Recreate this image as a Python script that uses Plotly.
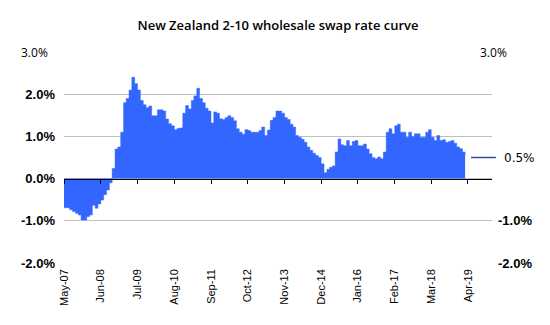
import pandas as pd
import plotly.graph_objects as go

# ---- data ----
start_month = "2007-05-01"
swap_curve = [
    -0.69, -0.69, -0.74, -0.78, -0.82, -0.86, -0.98, -0.98, -0.90, -0.86,
    -0.63, -0.70, -0.60, -0.51, -0.38, -0.27, -0.10, 0.24, 0.70, 0.75,
    1.10, 1.80, 1.90, 2.10, 2.40, 2.25, 2.10, 1.85, 1.75, 1.68,
    1.72, 1.49, 1.49, 1.63, 1.63, 1.60, 1.41, 1.30, 1.25, 1.16,
    1.19, 1.20, 1.55, 1.73, 1.65, 1.85, 1.96, 2.14, 1.90, 1.80,
    1.67, 1.60, 1.32, 1.58, 1.55, 1.42, 1.40, 1.45, 1.49, 1.45,
    1.37, 1.18, 1.10, 1.05, 1.16, 1.14, 1.10, 1.10, 1.10, 1.14,
    1.22, 1.02, 1.15, 1.38, 1.45, 1.60, 1.60, 1.55, 1.45, 1.40,
    1.29, 1.22, 1.02, 0.98, 0.93, 0.86, 0.75, 0.67, 0.60, 0.55,
    0.50, 0.35, 0.14, 0.22, 0.27, 0.30, 0.63, 0.94, 0.80, 0.78,
    0.90, 0.78, 0.88, 0.90, 0.78, 0.78, 0.82, 0.70, 0.59, 0.50,
    0.47, 0.51, 0.47, 0.63, 1.10, 1.18, 1.06, 1.25, 1.29, 1.10,
    1.10, 0.98, 1.10, 1.00, 1.06, 1.06, 0.98, 0.98, 1.10, 1.16,
    0.98, 0.90, 1.02, 0.90, 0.92, 0.86, 0.88, 0.90, 0.84, 0.75,
    0.71, 0.63, 0.55,
]
dates = pd.date_range(start_month, periods=len(swap_curve), freq="MS")
tick_dates = pd.date_range(start_month, "2019-04-01", freq="13MS")
tick_labels = [d.strftime("%b-%y") for d in tick_dates]
left_ticks = [-2, -1, 0, 1, 2, 3]
right_ticks = [-2, -1]
marker_value = 0.5
x_range = ["2007-05-01", "2019-12-16"]
y_range = [-2, 3]

def pct(v):
    return f"{v:.1f}%"

BLUE = "#3366FF"
GRID = "#BFBFBF"
bold_font = dict(family="Liberation Sans", size=13, color="black", weight="bold")

fig = go.Figure()
fig.add_trace(go.Scatter(
    x=dates, y=swap_curve, mode="lines", line=dict(shape="hv", color=BLUE, width=0.5),
    fill="tozeroy", fillcolor=BLUE, showlegend=False, hoverinfo="skip",
))
fig.add_trace(go.Scatter(x=[], y=[], xaxis="x2", yaxis="y2", showlegend=False))

zero_pos = (0 - y_range[0]) / (y_range[1] - y_range[0])

fig.update_layout(
    width=550, height=325,
    margin=dict(l=64, r=58, t=52, b=62),
    paper_bgcolor="white", plot_bgcolor="white",
    title=dict(text="New Zealand 2-10 wholesale swap rate curve",
               x=0.5, xref="paper", xanchor="center", y=1 - 25 / 325, yanchor="middle",
               font=dict(family="Open Sans", size=13, color="black", weight=600)),
    xaxis=dict(type="date", range=x_range, tickvals=tick_dates, ticktext=tick_labels,
               tickangle=-90, ticks="", showline=False, showgrid=False, zeroline=False,
               tickfont=dict(family="Liberation Sans", size=11, color="black"),
               ticklabelstandoff=3),
    xaxis2=dict(type="date", range=x_range, overlaying="x", anchor="free", position=zero_pos,
                tickvals=tick_dates, showticklabels=False, ticks="outside", ticklen=4,
                tickcolor="black", showline=True, linecolor="black", linewidth=1,
                showgrid=False, zeroline=False),
    yaxis=dict(range=y_range, tickvals=left_ticks,
               ticktext=[pct(v) if v != 3 else "" for v in left_ticks],
               showgrid=True, gridcolor=GRID, gridwidth=1, zeroline=False, ticks="",
               tickfont=bold_font, ticklabelstandoff=8),
    yaxis2=dict(range=y_range, overlaying="y", side="right", anchor="x",
                tickvals=right_ticks, ticktext=[pct(v) for v in right_ticks],
                showgrid=False, zeroline=False, ticks="", tickfont=bold_font,
                ticklabelstandoff=5),
)

# white patch hiding the end of the top gridline under the right 3.0% label
fig.add_shape(type="rect", xref="paper", yref="y", x0=0.9416, x1=1.0, y0=2.95, y1=3.05,
              fillcolor="white", line=dict(width=0), layer="above")
# marker line for latest level
fig.add_shape(type="line", xref="paper", yref="y", x0=0.951, x1=1.009,
              y0=marker_value, y1=marker_value, line=dict(color="#2E4A9E", width=1.5))
fig.add_annotation(xref="paper", yref="y", x=1.0234, y=marker_value, xanchor="left",
                   text=pct(marker_value), showarrow=False,
                   font=dict(family="DejaVu Sans", size=12, color="black"))
top_font = dict(family="Open Sans", size=12, color="black")
fig.add_annotation(xref="paper", yref="y", x=-0.0327, y=y_range[1], xanchor="right",
                   text=pct(y_range[1]), showarrow=False, font=top_font)
fig.add_annotation(xref="paper", yref="y", x=0.967, y=y_range[1], xanchor="left",
                   text=pct(y_range[1]), showarrow=False, font=top_font)

fig.write_html("out.html")
